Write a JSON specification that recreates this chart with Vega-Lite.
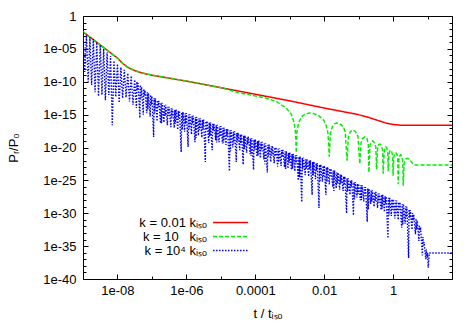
{
  "$schema": "https://vega.github.io/schema/vega-lite/v6.json",
  "width": 369,
  "height": 263,
  "autosize": {"type": "none"},
  "padding": {"left": 83, "top": 16, "right": 23, "bottom": 53},
  "config": {
    "view": {"stroke": "#000000", "strokeWidth": 1},
    "font": "Liberation Sans",
    "axis": {"grid": false, "domain": false, "tickColor": "#000000", "tickWidth": 1, "labelColor": "#000000", "titleColor": "#000000", "labelFont": "Liberation Sans", "titleFont": "Liberation Sans", "labelFontSize": 13, "titleFontSize": 13, "titleFontWeight": "normal", "labelFlush": false, "labelOverlap": false},
    "legend": {"labelFont": "Liberation Sans", "labelFontSize": 13, "labelColor": "#000000"}
  },
  "datasets": {
    "main": [
      {"k":"0.01","t":1e-9,"p":3.98e-3},{"k":"0.01","t":1.585e-9,"p":6.31e-4},{"k":"0.01","t":2.512e-9,"p":1e-4},{"k":"0.01","t":3.981e-9,"p":1.585e-5},{"k":"0.01","t":6.31e-9,"p":2.512e-6},{"k":"0.01","t":1e-8,"p":3.98e-7},{"k":"0.01","t":1.413e-8,"p":6.31e-8},{"k":"0.01","t":1.995e-8,"p":1.585e-8},{"k":"0.01","t":3.162e-8,"p":5.01e-9},{"k":"0.01","t":5.012e-8,"p":2.24e-9},{"k":"0.01","t":1e-7,"p":1e-9},{"k":"0.01","t":3.162e-7,"p":3.55e-10},{"k":"0.01","t":1e-6,"p":1.26e-10},{"k":"0.01","t":3.162e-6,"p":3.98e-11},{"k":"0.01","t":1e-5,"p":1.26e-11},{"k":"0.01","t":3.162e-5,"p":3.98e-12},{"k":"0.01","t":1e-4,"p":1.26e-12},{"k":"0.01","t":3.162e-4,"p":3.98e-13},{"k":"0.01","t":1e-3,"p":1.26e-13},{"k":"0.01","t":3.162e-3,"p":3.55e-14},{"k":"0.01","t":1e-2,"p":1e-14},{"k":"0.01","t":3.162e-2,"p":3.16e-15},{"k":"0.01","t":0.1,"p":1e-15},{"k":"0.01","t":0.1995,"p":3.55e-16},{"k":"0.01","t":0.398,"p":1.12e-16},{"k":"0.01","t":0.631,"p":5.01e-17},{"k":"0.01","t":1,"p":3.16e-17},{"k":"0.01","t":1.585,"p":2.51e-17},{"k":"0.01","t":3.162,"p":2.4e-17},{"k":"0.01","t":51.3,"p":2.4e-17},
      {"k":"10","t":1e-9,"p":3.98e-3},{"k":"10","t":1.585e-9,"p":6.31e-4},{"k":"10","t":2.512e-9,"p":1e-4},{"k":"10","t":3.981e-9,"p":1.585e-5},{"k":"10","t":6.31e-9,"p":2.512e-6},{"k":"10","t":1e-8,"p":3.98e-7},{"k":"10","t":1.413e-8,"p":6.31e-8},{"k":"10","t":1.995e-8,"p":1.585e-8},{"k":"10","t":3.162e-8,"p":5.01e-9},{"k":"10","t":5.012e-8,"p":2.24e-9},{"k":"10","t":1e-7,"p":1e-9},{"k":"10","t":3.162e-7,"p":3.55e-10},{"k":"10","t":1e-6,"p":1.26e-10},{"k":"10","t":3.162e-6,"p":3.98e-11},{"k":"10","t":1e-5,"p":1.26e-11},
      {"k":"10","t":3.162e-5,"p":2.24e-12},{"k":"10","t":6.918e-5,"p":1e-12},{"k":"10","t":2.089e-4,"p":3.16e-13},{"k":"10","t":4.074e-4,"p":1e-13},{"k":"10","t":7.943e-4,"p":1e-14},{"k":"10","t":1.122e-3,"p":1e-15},{"k":"10","t":1.349e-3,"p":6.31e-17},{"k":"10","t":1.479e-3,"p":1.585e-18},{"k":"10","t":1.545e-3,"p":1.585e-21},{"k":"10","t":1.622e-3,"p":2.51e-18},{"k":"10","t":1.82e-3,"p":6.31e-17},{"k":"10","t":2.239e-3,"p":5.01e-16},{"k":"10","t":2.818e-3,"p":1.26e-15},{"k":"10","t":3.802e-3,"p":1.78e-15},{"k":"10","t":5.012e-3,"p":1.41e-15},{"k":"10","t":7.079e-3,"p":6.31e-16},{"k":"10","t":9.55e-3,"p":1.585e-16},{"k":"10","t":1.148e-2,"p":2.0e-17},{"k":"10","t":1.288e-2,"p":1.585e-18},{"k":"10","t":1.406e-2,"p":3.98e-22},{"k":"10","t":1.514e-2,"p":1.585e-18},{"k":"10","t":1.738e-2,"p":1.585e-17},{"k":"10","t":1.995e-2,"p":3.98e-17},{"k":"10","t":2.323e-2,"p":5.37e-17},{"k":"10","t":2.818e-2,"p":3.98e-17},{"k":"10","t":3.548e-2,"p":1.585e-17},{"k":"10","t":4.074e-2,"p":2.51e-18},{"k":"10","t":4.634e-2,"p":1e-22},{"k":"10","t":5.012e-2,"p":3.16e-19},{"k":"10","t":5.754e-2,"p":2.51e-18},{"k":"10","t":6.761e-2,"p":4.57e-18},{"k":"10","t":8.128e-2,"p":2.51e-18},{"k":"10","t":9.55e-2,"p":5.01e-19},{"k":"10","t":0.1084,"p":3.16e-23},{"k":"10","t":0.1175,"p":5.01e-20},{"k":"10","t":0.1318,"p":2.51e-19},{"k":"10","t":0.1514,"p":3.98e-19},{"k":"10","t":0.1738,"p":2.51e-19},{"k":"10","t":0.1905,"p":3.16e-20},{"k":"10","t":0.1982,"p":1.585e-24},{"k":"10","t":0.2138,"p":1.585e-20},{"k":"10","t":0.2291,"p":6.31e-20},{"k":"10","t":0.2535,"p":1e-19},{"k":"10","t":0.2818,"p":6.31e-20},{"k":"10","t":0.3162,"p":1.26e-20},{"k":"10","t":0.3311,"p":5.01e-24},{"k":"10","t":0.3548,"p":6.31e-21},{"k":"10","t":0.3802,"p":2.51e-20},{"k":"10","t":0.413,"p":3.39e-20},{"k":"10","t":0.4571,"p":2.0e-20},{"k":"10","t":0.5012,"p":3.16e-21},{"k":"10","t":0.5152,"p":1e-24},{"k":"10","t":0.5495,"p":1.585e-21},{"k":"10","t":0.5821,"p":7.94e-21},{"k":"10","t":0.6166,"p":1.26e-20},{"k":"10","t":0.6607,"p":7.94e-21},{"k":"10","t":0.6998,"p":1.585e-21},{"k":"10","t":0.7211,"p":2.51e-24},{"k":"10","t":0.7586,"p":7.94e-22},{"k":"10","t":0.8035,"p":2.82e-21},{"k":"10","t":0.8511,"p":3.98e-21},{"k":"10","t":0.912,"p":2.51e-21},{"k":"10","t":0.9661,"p":5.01e-22},{"k":"10","t":1.0,"p":5.01e-25},{"k":"10","t":1.047,"p":3.16e-22},{"k":"10","t":1.122,"p":1.12e-21},{"k":"10","t":1.202,"p":1.585e-21},{"k":"10","t":1.288,"p":1e-21},{"k":"10","t":1.365,"p":2.51e-22},{"k":"10","t":1.406,"p":2.51e-26},{"k":"10","t":1.479,"p":1.26e-22},{"k":"10","t":1.567,"p":5.62e-22},{"k":"10","t":1.66,"p":7.94e-22},{"k":"10","t":1.778,"p":5.01e-22},{"k":"10","t":1.905,"p":1e-22},{"k":"10","t":1.968,"p":1.585e-26},{"k":"10","t":2.089,"p":3.98e-23},{"k":"10","t":2.399,"p":2.0e-22},{"k":"10","t":2.692,"p":2.24e-22},{"k":"10","t":3.162,"p":1e-22},{"k":"10","t":3.802,"p":3.16e-23},{"k":"10","t":4.467,"p":2.19e-23},{"k":"10","t":51.3,"p":2.19e-23},
      {"k":"1e4","t":1e-9,"p":3.55e-3},{"k":"1e4","t":1.122e-9,"p":3.16e-9},{"k":"1e4","t":1.259e-9,"p":1.26e-3},{"k":"1e4","t":1.413e-9,"p":1e-10},{"k":"1e4","t":1.585e-9,"p":6.31e-4},{"k":"1e4","t":1.778e-9,"p":3.16e-11},{"k":"1e4","t":1.995e-9,"p":3.16e-4},{"k":"1e4","t":2.239e-9,"p":2.51e-12},{"k":"1e4","t":2.512e-9,"p":1e-4},{"k":"1e4","t":2.818e-9,"p":6.31e-13},
      {"k":"1e4","t":3.162e-9,"p":3.98e-5},{"k":"1e4","t":3.548e-9,"p":1e-12},{"k":"1e4","t":3.981e-9,"p":1e-5},{"k":"1e4","t":4.467e-9,"p":1.58e-13},{"k":"1e4","t":5.012e-9,"p":3.16e-6},{"k":"1e4","t":5.623e-9,"p":1e-12},{"k":"1e4","t":6.31e-9,"p":7.94e-7},{"k":"1e4","t":7.079e-9,"p":2.51e-17},{"k":"1e4","t":7.943e-9,"p":1.58e-7},{"k":"1e4","t":8.913e-9,"p":5.01e-13},
      {"k":"1e4","t":1e-8,"p":5.01e-8},{"k":"1e4","t":1.122e-8,"p":6.31e-14},{"k":"1e4","t":1.259e-8,"p":1.58e-8},{"k":"1e4","t":1.413e-8,"p":3.16e-13},{"k":"1e4","t":1.585e-8,"p":6.31e-9},{"k":"1e4","t":1.778e-8,"p":3.98e-13},{"k":"1e4","t":1.995e-8,"p":2.0e-9},{"k":"1e4","t":2.239e-8,"p":1e-13},{"k":"1e4","t":2.512e-8,"p":7.94e-10},{"k":"1e4","t":2.818e-8,"p":3.16e-14},
      {"k":"1e4","t":3.162e-8,"p":2.0e-10},{"k":"1e4","t":3.548e-8,"p":1e-14},{"k":"1e4","t":3.981e-8,"p":6.31e-11},{"k":"1e4","t":4.467e-8,"p":3.16e-16},{"k":"1e4","t":5.012e-8,"p":1.58e-11},{"k":"1e4","t":5.623e-8,"p":1e-15},{"k":"1e4","t":6.31e-8,"p":5.01e-12},{"k":"1e4","t":7.079e-8,"p":1.58e-15},{"k":"1e4","t":7.943e-8,"p":2.0e-12},{"k":"1e4","t":8.913e-8,"p":5.01e-16},
      {"k":"1e4","t":1e-7,"p":6.31e-13},{"k":"1e4","t":1.122e-7,"p":3.98e-19},{"k":"1e4","t":1.259e-7,"p":3.16e-13},{"k":"1e4","t":1.413e-7,"p":1e-16},{"k":"1e4","t":1.585e-7,"p":1.26e-13},{"k":"1e4","t":1.778e-7,"p":5.01e-17},{"k":"1e4","t":1.995e-7,"p":6.31e-14},{"k":"1e4","t":2.239e-7,"p":6.31e-17},{"k":"1e4","t":2.512e-7,"p":3.16e-14},{"k":"1e4","t":2.818e-7,"p":2.51e-17},
      {"k":"1e4","t":3.162e-7,"p":1.58e-14},{"k":"1e4","t":3.548e-7,"p":1.26e-17},{"k":"1e4","t":3.981e-7,"p":7.94e-15},{"k":"1e4","t":4.467e-7,"p":1e-17},{"k":"1e4","t":5.012e-7,"p":6.31e-15},{"k":"1e4","t":5.623e-7,"p":5.01e-18},{"k":"1e4","t":6.31e-7,"p":3.98e-15},{"k":"1e4","t":7.079e-7,"p":2.0e-21},{"k":"1e4","t":7.943e-7,"p":2.51e-15},{"k":"1e4","t":8.913e-7,"p":2.51e-18},
      {"k":"1e4","t":1e-6,"p":1.78e-15},{"k":"1e4","t":1.122e-6,"p":1.26e-20},{"k":"1e4","t":1.259e-6,"p":1.12e-15},{"k":"1e4","t":1.413e-6,"p":1e-18},{"k":"1e4","t":1.585e-6,"p":7.08e-16},{"k":"1e4","t":1.778e-6,"p":6.31e-20},{"k":"1e4","t":1.995e-6,"p":4.47e-16},{"k":"1e4","t":2.239e-6,"p":6.31e-19},{"k":"1e4","t":2.512e-6,"p":2.82e-16},{"k":"1e4","t":2.818e-6,"p":3.16e-19},
      {"k":"1e4","t":3.162e-6,"p":1.78e-16},{"k":"1e4","t":3.548e-6,"p":6.31e-23},{"k":"1e4","t":3.981e-6,"p":1.12e-16},{"k":"1e4","t":4.467e-6,"p":5.01e-20},{"k":"1e4","t":5.012e-6,"p":7.08e-17},{"k":"1e4","t":5.623e-6,"p":3.98e-21},{"k":"1e4","t":6.31e-6,"p":4.47e-17},{"k":"1e4","t":7.079e-6,"p":1.26e-19},{"k":"1e4","t":7.943e-6,"p":2.82e-17},{"k":"1e4","t":8.913e-6,"p":6.31e-20},
      {"k":"1e4","t":1e-5,"p":1.78e-17},{"k":"1e4","t":1.122e-5,"p":3.98e-20},{"k":"1e4","t":1.259e-5,"p":1.12e-17},{"k":"1e4","t":1.413e-5,"p":2.51e-20},{"k":"1e4","t":1.585e-5,"p":7.08e-18},{"k":"1e4","t":1.778e-5,"p":2.51e-24},{"k":"1e4","t":1.995e-5,"p":4.47e-18},{"k":"1e4","t":2.239e-5,"p":1e-20},{"k":"1e4","t":2.512e-5,"p":2.82e-18},{"k":"1e4","t":2.818e-5,"p":6.31e-23},
      {"k":"1e4","t":3.162e-5,"p":1.78e-18},{"k":"1e4","t":3.548e-5,"p":3.98e-21},{"k":"1e4","t":3.981e-5,"p":1.12e-18},{"k":"1e4","t":4.467e-5,"p":2.51e-23},{"k":"1e4","t":5.012e-5,"p":7.08e-19},{"k":"1e4","t":5.623e-5,"p":1.58e-21},{"k":"1e4","t":6.31e-5,"p":4.47e-19},{"k":"1e4","t":7.079e-5,"p":1e-21},{"k":"1e4","t":7.943e-5,"p":2.82e-19},{"k":"1e4","t":8.913e-5,"p":3.98e-24},
      {"k":"1e4","t":1e-4,"p":1.78e-19},{"k":"1e4","t":1.122e-4,"p":3.98e-22},{"k":"1e4","t":1.259e-4,"p":1.12e-19},{"k":"1e4","t":1.413e-4,"p":2.51e-22},{"k":"1e4","t":1.585e-4,"p":7.08e-20},{"k":"1e4","t":1.778e-4,"p":1.58e-22},{"k":"1e4","t":1.995e-4,"p":4.47e-20},{"k":"1e4","t":2.239e-4,"p":1.58e-24},{"k":"1e4","t":2.512e-4,"p":2.82e-20},{"k":"1e4","t":2.818e-4,"p":6.31e-23},
      {"k":"1e4","t":3.162e-4,"p":1.78e-20},{"k":"1e4","t":3.548e-4,"p":3.98e-23},{"k":"1e4","t":3.981e-4,"p":1.12e-20},{"k":"1e4","t":4.467e-4,"p":1.26e-23},{"k":"1e4","t":5.012e-4,"p":7.08e-21},{"k":"1e4","t":5.623e-4,"p":1.58e-23},{"k":"1e4","t":6.31e-4,"p":4.47e-21},{"k":"1e4","t":7.079e-4,"p":1e-23},{"k":"1e4","t":7.943e-4,"p":2.82e-21},{"k":"1e4","t":8.913e-4,"p":6.31e-24},
      {"k":"1e4","t":1e-3,"p":1.78e-21},{"k":"1e4","t":1.122e-3,"p":3.98e-24},{"k":"1e4","t":1.259e-3,"p":1.12e-21},{"k":"1e4","t":1.413e-3,"p":2.51e-24},{"k":"1e4","t":1.585e-3,"p":7.08e-22},{"k":"1e4","t":1.778e-3,"p":1e-25},{"k":"1e4","t":1.995e-3,"p":4.47e-22},{"k":"1e4","t":2.239e-3,"p":5.01e-29},{"k":"1e4","t":2.512e-3,"p":2.82e-22},{"k":"1e4","t":2.818e-3,"p":6.31e-25},
      {"k":"1e4","t":3.162e-3,"p":1.78e-22},{"k":"1e4","t":3.548e-3,"p":3.98e-25},{"k":"1e4","t":3.981e-3,"p":1.12e-22},{"k":"1e4","t":4.467e-3,"p":6.31e-28},{"k":"1e4","t":5.012e-3,"p":7.08e-23},{"k":"1e4","t":5.623e-3,"p":1.58e-25},{"k":"1e4","t":6.31e-3,"p":4.47e-23},{"k":"1e4","t":7.079e-3,"p":6.31e-30},{"k":"1e4","t":7.943e-3,"p":2.82e-23},{"k":"1e4","t":8.913e-3,"p":6.31e-26},
      {"k":"1e4","t":1e-2,"p":1.78e-23},{"k":"1e4","t":1.122e-2,"p":6.31e-28},{"k":"1e4","t":1.259e-2,"p":1.12e-23},{"k":"1e4","t":1.413e-2,"p":2.51e-26},{"k":"1e4","t":1.585e-2,"p":6.31e-24},{"k":"1e4","t":1.778e-2,"p":1e-26},{"k":"1e4","t":1.995e-2,"p":3.16e-24},{"k":"1e4","t":2.239e-2,"p":6.31e-27},{"k":"1e4","t":2.512e-2,"p":1.58e-24},{"k":"1e4","t":2.818e-2,"p":3.98e-27},
      {"k":"1e4","t":3.162e-2,"p":7.94e-25},{"k":"1e4","t":3.548e-2,"p":2.51e-27},{"k":"1e4","t":3.981e-2,"p":3.98e-25},{"k":"1e4","t":4.467e-2,"p":1e-30},{"k":"1e4","t":5.012e-2,"p":2.0e-25},{"k":"1e4","t":5.623e-2,"p":6.31e-28},{"k":"1e4","t":6.31e-2,"p":1e-25},{"k":"1e4","t":7.079e-2,"p":5.01e-31},{"k":"1e4","t":7.943e-2,"p":5.62e-26},{"k":"1e4","t":8.913e-2,"p":2.51e-28},
      {"k":"1e4","t":0.1,"p":3.16e-26},{"k":"1e4","t":0.1122,"p":1e-28},{"k":"1e4","t":0.1259,"p":1.78e-26},{"k":"1e4","t":0.1413,"p":6.31e-29},{"k":"1e4","t":0.1585,"p":1e-26},{"k":"1e4","t":0.1778,"p":5.01e-32},{"k":"1e4","t":0.1995,"p":5.62e-27},{"k":"1e4","t":0.2239,"p":2.51e-29},{"k":"1e4","t":0.2512,"p":3.16e-27},{"k":"1e4","t":0.2818,"p":1e-29},
      {"k":"1e4","t":0.3162,"p":1.78e-27},{"k":"1e4","t":0.3548,"p":6.31e-30},{"k":"1e4","t":0.3981,"p":1e-27},{"k":"1e4","t":0.4467,"p":3.16e-30},{"k":"1e4","t":0.5012,"p":6.31e-28},{"k":"1e4","t":0.5623,"p":1.58e-30},{"k":"1e4","t":0.631,"p":3.55e-28},{"k":"1e4","t":0.7079,"p":1.58e-34},{"k":"1e4","t":0.7943,"p":2.24e-28},{"k":"1e4","t":0.8913,"p":3.98e-31},
      {"k":"1e4","t":1,"p":1.41e-28},{"k":"1e4","t":1.122,"p":1.58e-31},{"k":"1e4","t":1.259,"p":8.91e-29},{"k":"1e4","t":1.413,"p":1e-31},{"k":"1e4","t":1.585,"p":5.01e-29},{"k":"1e4","t":1.778,"p":6.31e-33},{"k":"1e4","t":1.995,"p":2.51e-29},{"k":"1e4","t":2.239,"p":2.51e-32},{"k":"1e4","t":2.512,"p":1e-29},{"k":"1e4","t":2.818,"p":1.58e-37},
      {"k":"1e4","t":3.162,"p":3.16e-30},{"k":"1e4","t":3.548,"p":3.16e-33},{"k":"1e4","t":3.981,"p":6.31e-31},{"k":"1e4","t":4.467,"p":6.31e-34},{"k":"1e4","t":5.012,"p":7.94e-32},{"k":"1e4","t":5.623,"p":6.31e-35},{"k":"1e4","t":6.31,"p":3.98e-33},{"k":"1e4","t":7.079,"p":3.98e-37},{"k":"1e4","t":7.943,"p":3.98e-35},{"k":"1e4","t":8.913,"p":1e-37},
      {"k":"1e4","t":10,"p":1e-36},{"k":"1e4","t":10.47,"p":5.01e-39},{"k":"1e4","t":11.22,"p":8.91e-37},{"k":"1e4","t":51.3,"p":8.91e-37},
      {"k":"1e4","t":3.673e-8,"p":1e-10},{"k":"1e4","t":3.802e-8,"p":5.01e-12},{"k":"1e4","t":4.624e-8,"p":3.16e-11},{"k":"1e4","t":4.786e-8,"p":3.16e-13},{"k":"1e4","t":5.821e-8,"p":7.94e-12},{"k":"1e4","t":6.026e-8,"p":7.94e-13},{"k":"1e4","t":7.328e-8,"p":2.51e-12},{"k":"1e4","t":7.586e-8,"p":6.31e-15},{"k":"1e4","t":9.226e-8,"p":1e-12},{"k":"1e4","t":9.55e-8,"p":3.16e-14},
      {"k":"1e4","t":1.161e-7,"p":3.16e-13},{"k":"1e4","t":1.202e-7,"p":2.0e-15},{"k":"1e4","t":1.462e-7,"p":1.58e-13},{"k":"1e4","t":1.514e-7,"p":1.26e-14},{"k":"1e4","t":1.841e-7,"p":6.31e-14},{"k":"1e4","t":1.905e-7,"p":5.01e-17},{"k":"1e4","t":2.317e-7,"p":3.16e-14},{"k":"1e4","t":2.399e-7,"p":6.31e-16},{"k":"1e4","t":2.917e-7,"p":1.58e-14},{"k":"1e4","t":3.02e-7,"p":6.31e-16},
      {"k":"1e4","t":3.673e-7,"p":8.91e-15},{"k":"1e4","t":3.802e-7,"p":3.98e-16},{"k":"1e4","t":4.624e-7,"p":5.01e-15},{"k":"1e4","t":4.786e-7,"p":3.98e-17},{"k":"1e4","t":5.821e-7,"p":3.55e-15},{"k":"1e4","t":6.026e-7,"p":3.16e-16},{"k":"1e4","t":7.328e-7,"p":2.24e-15},{"k":"1e4","t":7.586e-7,"p":5.01e-18},{"k":"1e4","t":9.226e-7,"p":1.41e-15},{"k":"1e4","t":9.55e-7,"p":3.98e-17},
      {"k":"1e4","t":1.161e-6,"p":1e-15},{"k":"1e4","t":1.202e-6,"p":5.62e-18},{"k":"1e4","t":1.462e-6,"p":6.31e-16},{"k":"1e4","t":1.514e-6,"p":4.47e-17},{"k":"1e4","t":1.841e-6,"p":3.98e-16},{"k":"1e4","t":1.905e-6,"p":2.82e-19},{"k":"1e4","t":2.317e-6,"p":2.51e-16},{"k":"1e4","t":2.399e-6,"p":4.47e-18},{"k":"1e4","t":2.917e-6,"p":1.58e-16},{"k":"1e4","t":3.02e-6,"p":5.62e-18},
      {"k":"1e4","t":3.673e-6,"p":1e-16},{"k":"1e4","t":3.802e-6,"p":4.47e-18},{"k":"1e4","t":4.624e-6,"p":6.31e-17},{"k":"1e4","t":4.786e-6,"p":5.62e-19},{"k":"1e4","t":5.821e-6,"p":3.98e-17},{"k":"1e4","t":6.026e-6,"p":3.55e-18},{"k":"1e4","t":7.328e-6,"p":2.51e-17},{"k":"1e4","t":7.586e-6,"p":5.62e-20},{"k":"1e4","t":9.226e-6,"p":1.58e-17},{"k":"1e4","t":9.55e-6,"p":4.47e-19},
      {"k":"1e4","t":1.161e-5,"p":1e-17},{"k":"1e4","t":1.202e-5,"p":5.62e-20},{"k":"1e4","t":1.462e-5,"p":6.31e-18},{"k":"1e4","t":1.514e-5,"p":4.47e-19},{"k":"1e4","t":1.841e-5,"p":3.98e-18},{"k":"1e4","t":1.905e-5,"p":2.82e-21},{"k":"1e4","t":2.317e-5,"p":2.51e-18},{"k":"1e4","t":2.399e-5,"p":4.47e-20},{"k":"1e4","t":2.917e-5,"p":1.58e-18},{"k":"1e4","t":3.02e-5,"p":5.62e-20},
      {"k":"1e4","t":3.673e-5,"p":1e-18},{"k":"1e4","t":3.802e-5,"p":4.47e-20},{"k":"1e4","t":4.624e-5,"p":6.31e-19},{"k":"1e4","t":4.786e-5,"p":5.62e-21},{"k":"1e4","t":5.821e-5,"p":3.98e-19},{"k":"1e4","t":6.026e-5,"p":3.55e-20},{"k":"1e4","t":7.328e-5,"p":2.51e-19},{"k":"1e4","t":7.586e-5,"p":5.62e-22},{"k":"1e4","t":9.226e-5,"p":1.58e-19},{"k":"1e4","t":9.55e-5,"p":4.47e-21},
      {"k":"1e4","t":1.161e-4,"p":1e-19},{"k":"1e4","t":1.202e-4,"p":5.62e-22},{"k":"1e4","t":1.462e-4,"p":6.31e-20},{"k":"1e4","t":1.514e-4,"p":4.47e-21},{"k":"1e4","t":1.841e-4,"p":3.98e-20},{"k":"1e4","t":1.905e-4,"p":2.82e-23},{"k":"1e4","t":2.317e-4,"p":2.51e-20},{"k":"1e4","t":2.399e-4,"p":4.47e-22},{"k":"1e4","t":2.917e-4,"p":1.58e-20},{"k":"1e4","t":3.02e-4,"p":5.62e-22},
      {"k":"1e4","t":3.673e-4,"p":1e-20},{"k":"1e4","t":3.802e-4,"p":4.47e-22},{"k":"1e4","t":4.624e-4,"p":6.31e-21},{"k":"1e4","t":4.786e-4,"p":5.62e-23},{"k":"1e4","t":5.821e-4,"p":3.98e-21},{"k":"1e4","t":6.026e-4,"p":3.55e-22},{"k":"1e4","t":7.328e-4,"p":2.51e-21},{"k":"1e4","t":7.586e-4,"p":5.62e-24},{"k":"1e4","t":9.226e-4,"p":1.58e-21},{"k":"1e4","t":9.55e-4,"p":4.47e-23},
      {"k":"1e4","t":1.161e-3,"p":1e-21},{"k":"1e4","t":1.202e-3,"p":5.62e-24},{"k":"1e4","t":1.462e-3,"p":6.31e-22},{"k":"1e4","t":1.514e-3,"p":4.47e-23},{"k":"1e4","t":1.841e-3,"p":3.98e-22},{"k":"1e4","t":1.905e-3,"p":2.82e-25},{"k":"1e4","t":2.317e-3,"p":2.51e-22},{"k":"1e4","t":2.399e-3,"p":4.47e-24},{"k":"1e4","t":2.917e-3,"p":1.58e-22},{"k":"1e4","t":3.02e-3,"p":5.62e-24},
      {"k":"1e4","t":3.673e-3,"p":1e-22},{"k":"1e4","t":3.802e-3,"p":4.47e-24},{"k":"1e4","t":4.624e-3,"p":6.31e-23},{"k":"1e4","t":4.786e-3,"p":5.62e-25},{"k":"1e4","t":5.821e-3,"p":3.98e-23},{"k":"1e4","t":6.026e-3,"p":3.55e-24},{"k":"1e4","t":7.328e-3,"p":2.51e-23},{"k":"1e4","t":7.586e-3,"p":5.62e-26},{"k":"1e4","t":9.226e-3,"p":1.58e-23},{"k":"1e4","t":9.55e-3,"p":4.47e-25},
      {"k":"1e4","t":1.161e-2,"p":1e-23},{"k":"1e4","t":1.202e-2,"p":5.62e-26},{"k":"1e4","t":1.462e-2,"p":6.31e-24},{"k":"1e4","t":1.514e-2,"p":4.47e-25},{"k":"1e4","t":1.841e-2,"p":3.16e-24},{"k":"1e4","t":1.905e-2,"p":2.51e-27},{"k":"1e4","t":2.317e-2,"p":1.58e-24},{"k":"1e4","t":2.399e-2,"p":3.16e-26},{"k":"1e4","t":2.917e-2,"p":7.94e-25},{"k":"1e4","t":3.02e-2,"p":3.16e-26},
      {"k":"1e4","t":3.673e-2,"p":3.98e-25},{"k":"1e4","t":3.802e-2,"p":2.0e-26},{"k":"1e4","t":4.624e-2,"p":2.0e-25},{"k":"1e4","t":4.786e-2,"p":2.0e-27},{"k":"1e4","t":5.821e-2,"p":1e-25},{"k":"1e4","t":6.026e-2,"p":1e-26},{"k":"1e4","t":7.328e-2,"p":5.01e-26},{"k":"1e4","t":7.586e-2,"p":1.26e-28},{"k":"1e4","t":9.226e-2,"p":3.16e-26},{"k":"1e4","t":9.55e-2,"p":8.91e-28},
      {"k":"1e4","t":0.1161,"p":1.78e-26},{"k":"1e4","t":0.1202,"p":1e-28},{"k":"1e4","t":0.1462,"p":1e-26},{"k":"1e4","t":0.1514,"p":7.08e-28},{"k":"1e4","t":0.1841,"p":5.62e-27},{"k":"1e4","t":0.1905,"p":3.98e-30},{"k":"1e4","t":0.2317,"p":3.16e-27},{"k":"1e4","t":0.2399,"p":5.62e-29},{"k":"1e4","t":0.2917,"p":1.78e-27},{"k":"1e4","t":0.302,"p":6.31e-29},
      {"k":"1e4","t":0.3673,"p":1e-27},{"k":"1e4","t":0.3802,"p":4.47e-29},{"k":"1e4","t":0.4624,"p":6.31e-28},{"k":"1e4","t":0.4786,"p":5.01e-30},{"k":"1e4","t":0.5821,"p":3.98e-28},{"k":"1e4","t":0.6026,"p":3.16e-29},{"k":"1e4","t":0.7328,"p":2.24e-28},{"k":"1e4","t":0.7586,"p":4.47e-31},{"k":"1e4","t":0.9226,"p":1.41e-28},{"k":"1e4","t":0.955,"p":3.55e-30},
      {"k":"1e4","t":1.161,"p":8.91e-29},{"k":"1e4","t":1.202,"p":4.47e-31},{"k":"1e4","t":1.462,"p":5.01e-29},{"k":"1e4","t":1.514,"p":3.55e-30},{"k":"1e4","t":1.841,"p":2.51e-29},{"k":"1e4","t":1.905,"p":2.0e-32},{"k":"1e4","t":2.317,"p":1.12e-29},{"k":"1e4","t":2.399,"p":2.51e-31},{"k":"1e4","t":2.917,"p":3.98e-30},{"k":"1e4","t":3.02,"p":2.0e-31},
      {"k":"1e4","t":3.673,"p":1.12e-30},{"k":"1e4","t":3.802,"p":7.94e-32},{"k":"1e4","t":4.624,"p":1.58e-31},{"k":"1e4","t":4.786,"p":3.16e-33},{"k":"1e4","t":5.821,"p":1.26e-32},{"k":"1e4","t":6.026,"p":2.51e-33},{"k":"1e4","t":7.328,"p":2.51e-34},{"k":"1e4","t":7.586,"p":1.26e-35},{"k":"1e4","t":9.226,"p":3.16e-36},{"k":"1e4","t":9.55,"p":1.58e-37}
    ],
    "dummy": [{"t": 1, "p": 1}]
  },
  "layer": [
    {
      "data": {"name": "main"},
      "mark": {"type": "line", "clip": true},
      "encoding": {
        "x": {"field": "t", "type": "quantitative", "scale": {"type": "log", "domain": [1e-9, 51.3], "nice": false},
          "axis": {"orient": "bottom", "values": [1e-8, 1e-6, 1e-4, 0.01, 1], "tickSize": -5, "labelPadding": 10, "labelExpr": "datum.value < 1e-5 ? '1e-0' + round(-log(datum.value)/LN10) : format(datum.value, '~g')", "title": "t / tᵢₛₒ", "titlePadding": 10}},
        "y": {"field": "p", "type": "quantitative", "scale": {"type": "log", "domain": [1e-40, 1], "nice": false},
          "axis": {"orient": "left", "values": [1, 1e-5, 1e-10, 1e-15, 1e-20, 1e-25, 1e-30, 1e-35, 1e-40], "tickSize": -5, "labelPadding": 12, "labelExpr": "datum.value > 0.5 ? '1' : (datum.value > 1e-6 ? '1e-05' : '1e-' + round(-log(datum.value)/LN10))", "title": "Pᵣ/P₀", "titlePadding": 22}},
        "color": {"field": "k", "type": "nominal", "scale": {"domain": ["0.01", "10", "1e4"], "range": ["#ff0000", "#00ee00", "#0000ff"]},
          "legend": {"orient": "none", "legendX": 141, "legendY": 200, "title": null, "symbolType": "M-3.5,0H3.5", "symbolSize": 100, "symbolStrokeWidth": 1.5, "labelAlign": "right", "labelOffset": -30, "rowPadding": -2, "padding": 0, "labelExpr": "datum.label == '0.01' ? 'k = 0.01 kᵢₛₒ' : (datum.label == '10' ? 'k = 10\u00a0\u00a0\u00a0kᵢₛₒ' : 'k = 10⁴ kᵢₛₒ')"}},
        "strokeDash": {"field": "k", "type": "nominal", "scale": {"domain": ["0.01", "10", "1e4"], "range": [[1, 0], [4, 2], [1.5, 1.5]]},
          "legend": {"orient": "none", "legendX": 141, "legendY": 200, "title": null, "symbolType": "M-3.5,0H3.5", "symbolSize": 100, "symbolStrokeWidth": 1.5, "labelAlign": "right", "labelOffset": -30, "rowPadding": -2, "padding": 0, "labelExpr": "datum.label == '0.01' ? 'k = 0.01 kᵢₛₒ' : (datum.label == '10' ? 'k = 10\u00a0\u00a0\u00a0kᵢₛₒ' : 'k = 10⁴ kᵢₛₒ')"}},
        "strokeWidth": {"field": "k", "type": "nominal", "scale": {"domain": ["0.01", "10", "1e4"], "range": [1.5, 1.4, 1.1]}, "legend": null}
      }
    },
    {
      "data": {"name": "dummy"},
      "mark": {"type": "point", "opacity": 0},
      "encoding": {
        "x": {"field": "t", "type": "quantitative", "scale": {"type": "log", "domain": [1e-9, 51.3], "nice": false},
          "axis": {"orient": "bottom", "values": [1e-7, 1e-5, 1e-3, 0.1, 10], "tickSize": -3, "labels": false, "title": null}},
        "y": {"field": "p", "type": "quantitative", "scale": {"type": "log", "domain": [1e-40, 1], "nice": false},
          "axis": {"orient": "left", "values": [1e-1,1e-2,1e-3,1e-4,1e-6,1e-7,1e-8,1e-9,1e-11,1e-12,1e-13,1e-14,1e-16,1e-17,1e-18,1e-19,1e-21,1e-22,1e-23,1e-24,1e-26,1e-27,1e-28,1e-29,1e-31,1e-32,1e-33,1e-34,1e-36,1e-37,1e-38,1e-39], "tickSize": -3, "labels": false, "title": null}}
      }
    },
    {
      "data": {"name": "dummy"},
      "mark": {"type": "point", "opacity": 0},
      "encoding": {
        "x": {"field": "t", "type": "quantitative", "scale": {"type": "log", "domain": [1e-9, 51.3], "nice": false},
          "axis": {"orient": "top", "values": [1e-8, 1e-6, 1e-4, 0.01, 1], "tickSize": -5, "labels": false, "title": null}},
        "y": {"field": "p", "type": "quantitative", "scale": {"type": "log", "domain": [1e-40, 1], "nice": false},
          "axis": {"orient": "right", "values": [1, 1e-5, 1e-10, 1e-15, 1e-20, 1e-25, 1e-30, 1e-35, 1e-40], "tickSize": -5, "labels": false, "title": null}}
      }
    },
    {
      "data": {"name": "dummy"},
      "mark": {"type": "point", "opacity": 0},
      "encoding": {
        "x": {"field": "t", "type": "quantitative", "scale": {"type": "log", "domain": [1e-9, 51.3], "nice": false},
          "axis": {"orient": "top", "values": [1e-7, 1e-5, 1e-3, 0.1, 10], "tickSize": -3, "labels": false, "title": null}},
        "y": {"field": "p", "type": "quantitative", "scale": {"type": "log", "domain": [1e-40, 1], "nice": false},
          "axis": {"orient": "right", "values": [1e-1,1e-2,1e-3,1e-4,1e-6,1e-7,1e-8,1e-9,1e-11,1e-12,1e-13,1e-14,1e-16,1e-17,1e-18,1e-19,1e-21,1e-22,1e-23,1e-24,1e-26,1e-27,1e-28,1e-29,1e-31,1e-32,1e-33,1e-34,1e-36,1e-37,1e-38,1e-39], "tickSize": -3, "labels": false, "title": null}}
      }
    }
  ],
  "resolve": {"axis": {"x": "independent", "y": "independent"}}
}
